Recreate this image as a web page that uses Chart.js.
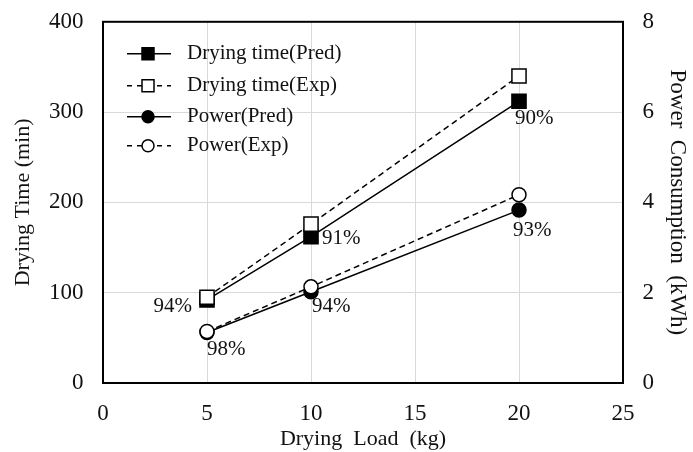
<!DOCTYPE html>
<html>
<head>
<meta charset="utf-8">
<script src="https://cdn.jsdelivr.net/npm/chart.js@4.4.0/dist/chart.umd.min.js"></script>
<style>
    html, body { margin: 0; padding: 0; background: #fff; }
    #wrap { width: 693px; height: 452px; }
</style>
</head>
<body>
<div id="wrap"><canvas id="lineChart"></canvas></div>
<script>
// values
let loads = [5, 10, 20];
let timePred = [92, 162, 312];
let timeExp = [95, 176, 340];
let powerPred = [1.12, 2.02, 3.83];
let powerExp = [1.14, 2.13, 4.17];
let timeAcc = ['94%', '91%', '90%'];
let powerAcc = ['98%', '94%', '93%'];
let legendNames = ['Drying time(Pred)', 'Drying time(Exp)', 'Power(Pred)', 'Power(Exp)'];

const serif = "'Liberation Serif', 'Times New Roman', serif";
const enSpace = '\u2002';

function pairs(ys) {
    return loads.map((x, i) => ({ x: x, y: ys[i] }));
}

// frame round the plot area
const framePlugin = {
    id: 'frame',
    afterDraw(chart) {
        const a = chart.chartArea;
        const ctx = chart.ctx;
        ctx.save();
        ctx.strokeStyle = '#000';
        ctx.lineWidth = 2;
        ctx.strokeRect(a.left, a.top, a.right - a.left, a.bottom - a.top);
        ctx.restore();
    }
};

// accuracy labels next to the predicted points
const accPlugin = {
    id: 'acc',
    afterDatasetsDraw(chart) {
        const ctx = chart.ctx;
        const spots = [
            { ds: 0, labels: timeAcc, off: [[-15, 7, 'right'], [11, 2, 'left'], [-4, 17, 'left']] },
            { ds: 2, labels: powerAcc, off: [[0, 17, 'left'], [1, 15, 'left'], [-6, 20, 'left']] }
        ];
        ctx.save();
        ctx.font = '21px ' + serif;
        ctx.fillStyle = '#111';
        ctx.textBaseline = 'middle';
        spots.forEach(s => {
            const meta = chart.getDatasetMeta(s.ds);
            meta.data.forEach((pt, i) => {
                const o = s.off[i];
                ctx.textAlign = o[2];
                ctx.fillText(s.labels[i], pt.x + o[0], pt.y + o[1]);
            });
        });
        ctx.restore();
    }
};

// legend drawn inside the plot, top left
const legendPlugin = {
    id: 'innerLegend',
    afterDraw(chart) {
        const ctx = chart.ctx;
        const a = chart.chartArea;
        const x0 = a.left + 24, x1 = a.left + 68, xm = a.left + 45;
        const rows = [a.top + 32, a.top + 64, a.top + 95, a.top + 124];
        ctx.save();
        rows.forEach((y, i) => {
            const dashed = i % 2 === 1;
            const square = i < 2;
            ctx.strokeStyle = '#000';
            ctx.lineWidth = 1.5;
            ctx.setLineDash(dashed ? [5, 5] : []);
            ctx.beginPath();
            ctx.moveTo(x0, y);
            ctx.lineTo(x1, y);
            ctx.stroke();
            ctx.setLineDash([]);
            ctx.fillStyle = dashed ? '#fff' : '#000';
            ctx.beginPath();
            if (square) {
                ctx.rect(xm - 6, y - 6, 12, 12);
            } else {
                ctx.arc(xm, y, 6, 0, Math.PI * 2);
            }
            ctx.fill();
            ctx.stroke();
            ctx.fillStyle = '#111';
            ctx.font = '21px ' + serif;
            ctx.textAlign = 'left';
            ctx.textBaseline = 'middle';
            ctx.fillText(legendNames[i], a.left + 84, y);
        });
        ctx.restore();
    }
};

function buildChart() {
    const chart = document.getElementById('lineChart');
    let lineChart = new Chart(chart, {
        type: 'line',
        data: {
            datasets: [{
                label: legendNames[0],
                data: pairs(timePred),
                yAxisID: 'y',
                borderColor: '#000',
                borderWidth: 1.5,
                pointStyle: 'rect',
                pointRadius: 10,
                pointBackgroundColor: '#000',
                pointBorderColor: '#000',
                pointBorderWidth: 1.5,
                order: 1
            }, {
                label: legendNames[1],
                data: pairs(timeExp),
                yAxisID: 'y',
                borderColor: '#000',
                borderWidth: 1.5,
                borderDash: [6, 4],
                pointStyle: 'rect',
                pointRadius: 10,
                pointBackgroundColor: '#fff',
                pointBorderColor: '#000',
                pointBorderWidth: 1.5,
                order: 0
            }, {
                label: legendNames[2],
                data: pairs(powerPred),
                yAxisID: 'y1',
                borderColor: '#000',
                borderWidth: 1.5,
                pointStyle: 'circle',
                pointRadius: 7,
                pointBackgroundColor: '#000',
                pointBorderColor: '#000',
                pointBorderWidth: 1.5,
                order: 1
            }, {
                label: legendNames[3],
                data: pairs(powerExp),
                yAxisID: 'y1',
                borderColor: '#000',
                borderWidth: 1.5,
                borderDash: [6, 4],
                pointStyle: 'circle',
                pointRadius: 7,
                pointBackgroundColor: '#fff',
                pointBorderColor: '#000',
                pointBorderWidth: 1.5,
                order: 0
            }]
        },
        options: {
            responsive: true,
            maintainAspectRatio: false,
            animation: false,
            layout: { padding: { top: 8, right: 0, bottom: 0, left: 0 } },
            plugins: {
                legend: { display: false },
                tooltip: { enabled: false }
            },
            scales: {
                x: {
                    type: 'linear',
                    min: 0,
                    max: 25,
                    ticks: { stepSize: 5, padding: 17, color: '#111', font: { family: serif, size: 23 } },
                    grid: { color: '#d9d9d9', drawTicks: false },
                    border: { display: false },
                    // tick padding counts twice in the fit, so the title padding takes it back
                    title: { display: true, text: 'Drying  Load  (kg)', color: '#111', padding: { top: -19, bottom: 0 }, font: { family: serif, size: 22 } }
                },
                y: {
                    position: 'left',
                    min: 0,
                    max: 400,
                    // small padding keeps the plot top at 22px; the en space pushes labels off the frame
                    ticks: { stepSize: 100, padding: 8, color: '#111', font: { family: serif, size: 23 },
                        callback: v => v + enSpace },
                    grid: { color: '#d9d9d9', drawTicks: false },
                    border: { display: false },
                    title: { display: true, text: 'Drying Time (min)', color: '#111', padding: { top: 10, bottom: 4.6 }, font: { family: serif, size: 22 } }
                },
                y1: {
                    position: 'right',
                    min: 0,
                    max: 8,
                    ticks: { stepSize: 2, padding: 8, color: '#111', font: { family: serif, size: 23 },
                        callback: v => enSpace + v },
                    grid: { drawOnChartArea: false, drawTicks: false },
                    border: { display: false },
                    title: { display: true, text: 'Power  Consumption  (kWh)', color: '#111', padding: { top: 2, bottom: 1.4 }, font: { family: serif, size: 23 } }
                }
            }
        },
        plugins: [framePlugin, accPlugin, legendPlugin]
    });
}

buildChart();
</script>
</body>
</html>
